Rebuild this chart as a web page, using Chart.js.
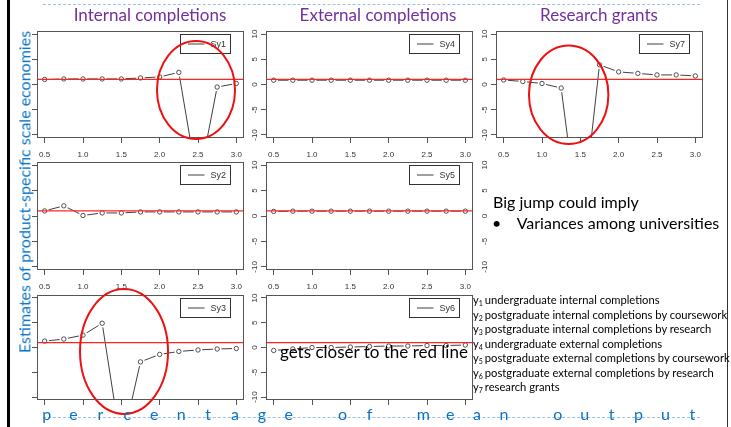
<!DOCTYPE html>
<html>
<head>
<meta charset="utf-8">
<title>Estimates of product-specific scale economies</title>
<script src="https://cdn.jsdelivr.net/npm/chart.js@4.4.1/dist/chart.umd.min.js"></script>
<style>
  html, body { margin: 0; padding: 0; background: #fff; }
  #slide { position: relative; width: 731px; height: 427px; overflow: hidden; background: #fff;
           font-family: Lato, "Open Sans", "DejaVu Sans", sans-serif; }
  #slide canvas { position: absolute; }
  .txt { position: absolute; white-space: nowrap; line-height: 1.2; margin: 0; }
  .heading { color: #7030a0; font-size: 17px; transform: translateX(-50%); }
  .note { color: #000; }
  .rule { position: absolute; height: 0; border-top: 1px dashed #9cc0e4; }
  .side { position: absolute; background: #000; }
  #ytitle { position: absolute; color: #0b72c6; font-size: 16px; white-space: nowrap; line-height: 1.2;
            transform: translate(-50%, -50%) rotate(-90deg); }
  #xtitle span { position: absolute; width: 27px; text-align: center; color: #0b72c6; font-size: 16px; line-height: 1.2; }
  #key { position: absolute; font-size: 11.2px; color: #000; }
  #key div { position: absolute; white-space: nowrap; line-height: 1.2; }
  #key sub { font-size: 7px; vertical-align: -2px; margin-right: 2px; }
</style>
</head>
<body>
<div id="slide">
  <div class="side" style="left:7px;top:0;width:3px;height:427px;"></div>
  <div class="side" style="left:727px;top:0;width:1px;height:427px;background:#333;"></div>
  <div class="rule" style="left:43px;top:4px;width:657px;"></div>
  <div class="rule" style="left:43px;top:417px;width:657px;"></div>
</div>

<script>
// Share of mean output at which the estimates were evaluated
const outputShare = [0.5, 0.75, 1.0, 1.25, 1.5, 1.75, 2.0, 2.25, 2.5, 2.75, 3.0];

// Product-specific scale economy estimates, one series per output
const sy1 = [1.0, 1.1, 1.1, 1.1, 1.1, 1.3, 1.5, 2.4, -20, -0.5, 0.2];
const sy2 = [1.0, 2.0, 0.1, 0.6, 0.6, 0.8, 0.8, 0.8, 0.8, 0.8, 0.8];
const sy3 = [1.3, 1.7, 2.5, 4.9, -20, -2.9, -1.4, -0.8, -0.5, -0.3, -0.2];
const sy4 = [0.85, 0.85, 0.85, 0.85, 0.85, 0.85, 0.85, 0.85, 0.85, 0.85, 0.85];
const sy5 = [0.9, 0.95, 0.95, 0.95, 0.95, 0.95, 0.95, 0.95, 0.95, 0.95, 0.95];
const sy6 = [-0.6, -0.3, 0.0, 0.0, 0.1, 0.2, 0.3, 0.3, 0.4, 0.4, 0.5];
const sy7 = [0.9, 0.6, 0.2, -0.7, -30, 3.9, 2.5, 2.2, 1.9, 1.9, 1.7];

// Axis ticks
const xTickValues = [0.5, 1.0, 1.5, 2.0, 2.5, 3.0];
const xTickLabels = ['0.5', '1.0', '1.5', '2.0', '2.5', '3.0'];
const yTickValues = [-10, -5, 0, 5, 10];
const yTickLabels = ['-10', '-5', '0', '5', '10'];

// Constant returns to scale benchmark
const referenceLevel = 1;

const columnTitles = ['Internal completions', 'External completions', 'Research grants'];
const outputNames = [
  'undergraduate internal completions',
  'postgraduate internal completions by coursework',
  'postgraduate internal completions by research',
  'undergraduate external completions',
  'postgraduate external completions by coursework',
  'postgraduate external completions by research',
  'research grants'
];
const axisTitle = 'Estimates of product-specific scale economies';
const bottomTitle = 'percentage of mean output';

// ---- layout ----
const colLeft = [37, 266, 496];
const colHeadX = [150, 378, 599];
const boxW = 207;
const rowTop = [31, 162, 295];
const rowH = [107, 108, 105];
const padL = 32, padT = 8, padR = 6, padB = 24;
const xMin = 0.4, xMax = 3.1, yMin = -10.6, yMax = 10.6;
const lineCol = '#404040';
const tickFont = { family: '"Liberation Sans", Arial, sans-serif', size: 8 };

// Circled regions (in data units of the panel they sit on)
const rings = {
  Sy1: { x: 2.474, y: -1.09, rx: 0.509, ry: 9.71 },
  Sy7: { x: 1.348, y: -2.04, rx: 0.518, ry: 9.75 },
  Sy3: { x: 1.535, y: -0.81, rx: 0.574, ry: 12.6 }
};

const panels = [
  { name: 'Sy1', values: sy1, col: 0, row: 0 },
  { name: 'Sy4', values: sy4, col: 1, row: 0 },
  { name: 'Sy7', values: sy7, col: 2, row: 0 },
  { name: 'Sy2', values: sy2, col: 0, row: 1 },
  { name: 'Sy5', values: sy5, col: 1, row: 1 },
  { name: null,  values: null, col: 2, row: 1 },
  { name: 'Sy3', values: sy3, col: 0, row: 2 },
  { name: 'Sy6', values: sy6, col: 1, row: 2 }
];

// R-style panel furniture: gaps round the points, box, legend, rings
const rPanel = {
  id: 'rPanel',
  beforeDatasetDraw(chart, args, opts) {
    if (args.index !== 1) return;
    const { ctx, chartArea: a } = chart;
    ctx.save();
    ctx.beginPath();
    ctx.rect(a.left, a.top, a.right - a.left, a.bottom - a.top);
    ctx.clip();
    ctx.fillStyle = '#fff';
    args.meta.data.forEach(pt => {
      if (pt.y >= a.top - 3 && pt.y <= a.bottom + 3) {
        ctx.beginPath();
        ctx.arc(pt.x, pt.y, opts.halo, 0, Math.PI * 2);
        ctx.fill();
      }
    });
    ctx.restore();
  },
  afterDatasetsDraw(chart, args, opts) {
    if (!opts.frame) return;
    const { ctx, chartArea: a } = chart;
    ctx.save();
    ctx.strokeStyle = '#555';
    ctx.lineWidth = 1;
    ctx.strokeRect(a.left + 0.5, a.top + 0.5, a.right - a.left - 1, a.bottom - a.top - 1);

    const lw = 50, lh = 19;
    const lx = Math.round(a.right - 14.5 - lw) + 0.5;
    const ly = Math.round(a.top + 3) + 0.5;
    ctx.fillStyle = '#fff';
    ctx.fillRect(lx, ly, lw, lh);
    ctx.strokeStyle = '#333';
    ctx.strokeRect(lx, ly, lw, lh);
    ctx.beginPath();
    ctx.strokeStyle = lineCol;
    ctx.moveTo(lx + 7.5, ly + lh / 2);
    ctx.lineTo(lx + 24, ly + lh / 2);
    ctx.stroke();
    ctx.fillStyle = '#333';
    ctx.font = '9px "Liberation Sans", Arial, sans-serif';
    ctx.textBaseline = 'middle';
    ctx.textAlign = 'left';
    ctx.fillText(chart.data.datasets[0].label, lx + 30, ly + lh / 2 + 0.5);
    ctx.restore();
  },
  afterDraw(chart, args, opts) {
    const r = opts.ring;
    if (!r) return;
    const { ctx, scales: { x, y } } = chart;
    const cx = x.getPixelForValue(r.x), cy = y.getPixelForValue(r.y);
    const rx = Math.abs(x.getPixelForValue(r.x + r.rx) - cx);
    const ry = Math.abs(y.getPixelForValue(r.y + r.ry) - cy);
    ctx.save();
    ctx.beginPath();
    ctx.strokeStyle = '#ee1111';
    ctx.lineWidth = 2;
    ctx.ellipse(cx, cy, rx, ry, 0, 0, Math.PI * 2);
    ctx.stroke();
    ctx.restore();
  }
};

const slide = document.getElementById('slide');

panels.forEach(p => {
  const canvas = document.createElement('canvas');
  const w = padL + boxW + padR, h = padT + rowH[p.row] + padB;
  canvas.width = w; canvas.height = h;
  canvas.style.left = (colLeft[p.col] - padL) + 'px';
  canvas.style.top = (rowTop[p.row] - padT) + 'px';
  canvas.style.width = w + 'px'; canvas.style.height = h + 'px';
  slide.appendChild(canvas);

  const hasData = !!p.values;
  const pts = hasData ? outputShare.map((s, i) => ({ x: s, y: p.values[i] })) : [];
  const refPts = [{ x: xMin, y: referenceLevel }, { x: xMax, y: referenceLevel }];
  const showY = p.col > 0;
  const showX = p.row < 2 && hasData;

  new Chart(canvas, {
    type: 'line',
    data: {
      datasets: hasData ? [
        { label: p.name, data: pts, showLine: true, borderColor: lineCol, borderWidth: 1,
          pointRadius: 0, order: 2 },
        { label: p.name, data: pts, showLine: false, pointRadius: 2.2, pointBorderWidth: 0.9,
          pointBackgroundColor: '#fff', pointBorderColor: lineCol, order: 1 },
        { label: 'reference', data: refPts, showLine: true, borderColor: '#ff2424',
          borderWidth: 1.2, pointRadius: 0, order: 0 }
      ] : []
    },
    options: {
      responsive: false,
      animation: false,
      events: [],
      devicePixelRatio: 1,
      layout: { padding: { top: padT, right: padR, left: 0, bottom: 0 } },
      scales: {
        x: {
          type: 'linear', min: xMin, max: xMax,
          afterBuildTicks: s => { s.ticks = xTickValues.map(v => ({ value: v })); },
          afterFit: s => { s.height = padB; },
          ticks: { callback: (v, i) => xTickLabels[i], font: tickFont,
                   color: showX ? '#333' : 'rgba(0,0,0,0)', padding: 7,
                   maxRotation: 0, autoSkip: false },
          grid: { display: hasData, drawOnChartArea: false, color: '#555', tickLength: 5 },
          border: { display: false }
        },
        y: {
          min: yMin, max: yMax,
          afterBuildTicks: s => { s.ticks = yTickValues.map(v => ({ value: v })); },
          afterFit: s => { s.width = padL; },
          ticks: { callback: (v, i) => yTickLabels[i], font: tickFont,
                   color: showY ? '#333' : 'rgba(0,0,0,0)', padding: 0,
                   minRotation: 90, maxRotation: 90, crossAlign: 'center', autoSkip: false },
          grid: { display: hasData, drawOnChartArea: false, color: '#555', tickLength: 5 },
          border: { display: false }
        }
      },
      plugins: {
        legend: { display: false },
        tooltip: { enabled: false },
        rPanel: { halo: 4.3, frame: hasData, ring: hasData ? rings[p.name] : null }
      }
    },
    plugins: [rPanel]
  });
});

// ---- slide text ----
function addText(html, cls, left, top, extra) {
  const d = document.createElement('div');
  d.className = 'txt ' + cls;
  d.innerHTML = html;
  d.style.left = left + 'px';
  d.style.top = top + 'px';
  if (extra) Object.assign(d.style, extra);
  slide.appendChild(d);
  return d;
}

columnTitles.forEach((t, i) => addText(t, 'heading', colHeadX[i], 4.5));

const yt = document.createElement('div');
yt.id = 'ytitle';
yt.textContent = axisTitle;
yt.style.left = '24px';
yt.style.top = '192px';
slide.appendChild(yt);

const xt = document.createElement('div');
xt.id = 'xtitle';
bottomTitle.split('').forEach((ch, i) => {
  const s = document.createElement('span');
  s.textContent = ch === ' ' ? '\u00a0' : ch;
  s.style.left = (33.2 + i * 26.9) + 'px';
  s.style.top = '404px';
  xt.appendChild(s);
});
slide.appendChild(xt);

addText('Big jump could imply', 'note', 493, 191.5, { fontSize: '16px' });
addText('\u2022', 'note', 492, 213, { fontSize: '16px' });
addText('Variances among universities', 'note', 516.7, 213, { fontSize: '16px' });
addText('gets closer to the red line', 'note', 280, 341.5, { fontSize: '17px' });

const key = document.createElement('div');
key.id = 'key';
key.style.left = '473px';
key.style.top = '0px';
outputNames.forEach((n, i) => {
  const d = document.createElement('div');
  d.innerHTML = 'y<sub>' + (i + 1) + '</sub>' + n;
  d.style.left = '0px';
  d.style.top = (293.4 + i * 14.45) + 'px';
  key.appendChild(d);
});
slide.appendChild(key);
</script>
</body>
</html>
